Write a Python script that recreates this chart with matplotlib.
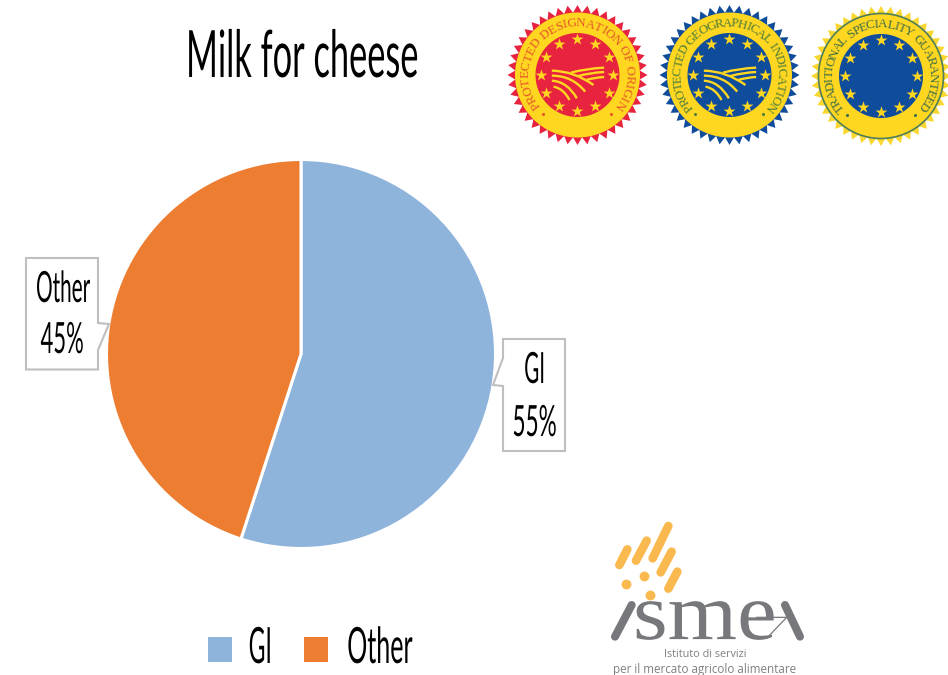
import numpy as np
import matplotlib
matplotlib.use("Agg")
import matplotlib.pyplot as plt
from matplotlib.patches import Circle, PathPatch, Polygon, Rectangle
from matplotlib.path import Path
from matplotlib.patheffects import AbstractPathEffect
from matplotlib.font_manager import FontProperties
from matplotlib.textpath import TextToPath
from matplotlib.transforms import Affine2D

# Chart values
CATEGORIES = ["GI", "Other"]
SHARES = [55, 45]
COLORS = ["#8FB4DC", "#ED7D31"]
TITLE = "Milk for cheese"

# Seal captions
SEAL_TEXTS = ["PROTECTED DESIGNATION OF ORIGIN",
              "PROTECTED GEOGRAPHICAL INDICATION",
              "TRADITIONAL SPECIALITY GUARANTEED"]

W, H = 948, 675
YELLOW = "#FFD620"
ISMEA_ORANGE = "#F9B94F"
ISMEA_GREY = "#77787B"
THIN = FontProperties(family="Lato", weight="normal")


class FitWidth(AbstractPathEffect):
    """Rescales a text line to a given pixel width around its centre, sitting on its baseline."""

    def __init__(self, width, sy=1.0):
        super().__init__()
        self.width = width
        self.sy = sy

    def draw_path(self, renderer, gc, tpath, affine, rgbFace=None):
        box = tpath.transformed(affine).get_extents()
        mid = (box.x0 + box.x1) / 2
        fitted = affine + (Affine2D().translate(-mid, -box.y0)
                           .scale(self.width / box.width, self.sy)
                           .translate(mid, box.y0))
        renderer.draw_path(gc, tpath, fitted, rgbFace)


def narrow_text(ax, x, y, s, size, width):
    prop = THIN.copy()
    prop.set_size(size)
    ax.text(x, y, s, fontproperties=prop, ha="center", va="baseline",
            color="black", path_effects=[FitWidth(width)])


def callout(ax, points):
    ax.add_patch(Polygon(points, closed=True, facecolor="white",
                         edgecolor="#BFBFBF", linewidth=1.5, zorder=1))


def arc_text(ax, cx, cy, radius, s, start, end, color):
    # one rotated glyph per character, spaced by glyph width along the arc
    prop = FontProperties(family="Liberation Serif", size=9.4)
    measure = TextToPath()
    widths = np.array([measure.get_text_width_height_descent(c, prop, False)[0] for c in s])
    widths = widths + 0.6
    mids = (np.cumsum(widths) - widths / 2) / widths.sum()
    for ch, m in zip(s, mids):
        a = np.radians(start + (end - start) * m)
        ax.text(cx + radius * np.cos(a), cy - radius * np.sin(a), ch, fontproperties=prop,
                color=color, ha="center", va="center", rotation=np.degrees(a) - 90,
                rotation_mode="anchor", zorder=6)


def draw_fields(ax, cx, cy):
    # ploughed field strokes, given relative to the seal centre
    strokes = [((-77, -13), (-10, -12), (48, 30)),
               ((-77, 2), (-15, 2), (23, 50)),
               ((-77, 17), (-30, 20), (-2, 70)),
               ((-72, 35), (-42, 40), (-24, 75)),
               ((-20, -7), (28, -20), (80, -22)),
               ((3, 3), (38, -7), (80, -9)),
               ((26, 15), (53, 7), (80, 6))]
    for p0, p1, p2 in strokes:
        verts = [(cx + p[0] / 3, cy + p[1] / 3) for p in (p0, p1, p2)]
        path = Path(verts, [Path.MOVETO, Path.CURVE3, Path.CURVE3])
        ax.add_patch(PathPatch(path, facecolor="none", edgecolor=YELLOW, linewidth=1.7,
                               capstyle="butt", zorder=5))


def draw_seal(ax, cx, cy, teeth, inner, caption, text_color, span, fields=True, ring=None):
    n = 44
    angles = np.linspace(0, 2 * np.pi, 2 * n, endpoint=False) + np.pi / 2
    radii = np.where(np.arange(2 * n) % 2 == 0, 70, 62.5)
    ax.add_patch(Polygon(np.column_stack([cx + radii * np.cos(angles), cy - radii * np.sin(angles)]),
                         closed=True, facecolor=teeth, edgecolor="none", zorder=2))
    ax.add_patch(Circle((cx, cy), 62.5, facecolor=YELLOW, edgecolor=ring or "none",
                        linewidth=1.2, zorder=3))
    ax.add_patch(Circle((cx, cy), 42, facecolor=inner, edgecolor="none", zorder=4))

    a = np.radians(90 - 30 * np.arange(12))
    ax.scatter(cx + 36 * np.cos(a), cy - 36 * np.sin(a), marker="*", s=80, color=YELLOW,
               linewidths=0, zorder=5)
    if fields:
        draw_fields(ax, cx, cy)

    arc_text(ax, cx, cy, 51.5, caption, span[0], span[1], text_color)
    ax.scatter([cx - 34, cx + 34], [cy + 39, cy + 39], s=5, color=text_color, linewidths=0, zorder=6)


def ismea_xy(x, y):
    return x / 3 + 590, y / 3 + 510


def draw_ismea(ax):
    bars = [((88, 165), (112, 118)), ((138, 152), (170, 92)), ((188, 145), (235, 48)),
            ((212, 187), (245, 125)), ((235, 236), (262, 185))]
    for p, q in bars:
        x0, y0 = ismea_xy(*p)
        x1, y1 = ismea_xy(*q)
        ax.plot([x0, x1], [y0, y1], color=ISMEA_ORANGE, lw=6.2, solid_capstyle="round")
    dots = np.array([ismea_xy(107, 222), ismea_xy(163, 197), ismea_xy(180, 256)])
    ax.scatter(dots[:, 0], dots[:, 1], s=50, color=ISMEA_ORANGE, linewidths=0)

    for p, q in [((75, 380), (125, 285)), ((630, 380), (585, 285))]:
        x0, y0 = ismea_xy(*p)
        x1, y1 = ismea_xy(*q)
        ax.plot([x0, x1], [y0, y1], color=ISMEA_GREY, lw=5.8, solid_capstyle="round")
    x, y = zip(*[ismea_xy(*p) for p in [(500, 322), (590, 322), (530, 385)]])
    ax.plot(x, y, color=ISMEA_GREY, lw=0.9)

    # wordmark is stretched from a small size so its layout box stays clear of the lines below
    ax.text(705, 639.5, "sme", family="Liberation Serif", fontsize=29, color=ISMEA_GREY,
            ha="center", va="baseline", path_effects=[FitWidth(137, sy=2.0)])
    ax.text(705, 654.5, "Istituto di servizi", family="Open Sans", fontsize=7.8, color="#808080",
            ha="center", va="center")
    ax.text(705, 669.5, "per il mercato agricolo alimentare", family="Open Sans", fontsize=8.4,
            color="#808080", ha="center", va="center")


fig = plt.figure(figsize=(W / 100, H / 100), dpi=100, facecolor="white")

# pie, centred at (301, 354) px
R = 194.5
pie_ax = fig.add_axes([(301 - R) / W, 1 - (354 + R) / H, 2 * R / W, 2 * R / H])
pie_ax.pie(SHARES, colors=COLORS, startangle=90, counterclock=False,
           wedgeprops={"edgecolor": "white", "linewidth": 2.2})
pie_ax.set_xlim(-1, 1)
pie_ax.set_ylim(-1, 1)

# pixel-based canvas for everything around the pie, on top so callout tips reach the wedges
canvas = fig.add_axes([0, 0, 1, 1])
canvas.set_xlim(0, W)
canvas.set_ylim(H, 0)
canvas.axis("off")

narrow_text(canvas, 301.5, 77, TITLE, 47, 228)

# value callouts
callout(canvas, [(26, 258), (98, 258), (98, 323), (109, 324), (98, 350), (98, 369.5), (26, 369.5)])
callout(canvas, [(503, 339), (565, 339), (565, 451), (503, 451), (503, 386), (493, 385), (503, 358)])
narrow_text(canvas, 62.5, 302, CATEGORIES[1], 31, 53)
narrow_text(canvas, 62.5, 353, f"{SHARES[1]}%", 31, 42)
narrow_text(canvas, 535, 383, CATEGORIES[0], 31, 18)
narrow_text(canvas, 534.5, 436, f"{SHARES[0]}%", 31, 42)

# legend row
canvas.add_patch(Rectangle((208, 637), 24, 25, facecolor=COLORS[0], edgecolor="none"))
canvas.add_patch(Rectangle((304, 637), 24, 25, facecolor=COLORS[1], edgecolor="none"))
narrow_text(canvas, 261, 663, CATEGORIES[0], 36, 20)
narrow_text(canvas, 379.5, 663, CATEGORIES[1], 36, 64)

# quality seals
draw_seal(canvas, 577.5, 75, "#E8233F", "#E8233F", SEAL_TEXTS[0], "#E4582A", (220, -40))
draw_seal(canvas, 729.5, 75, "#0F4C9C", "#0F4C9C", SEAL_TEXTS[1], "#4F7F3A", (222, -42))
draw_seal(canvas, 881, 76, "#F9D72F", "#0F4C9C", SEAL_TEXTS[2], "#3F6F48", (222, -40),
          fields=False, ring="#4F7F5A")

draw_ismea(canvas)

fig.savefig("out.png", dpi=100)
